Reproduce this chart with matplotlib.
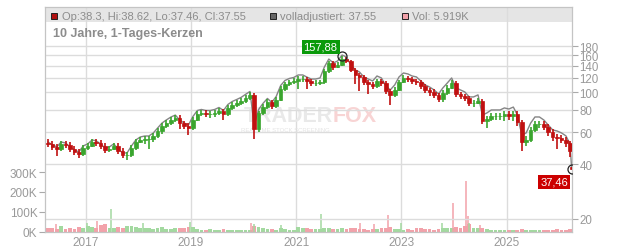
import matplotlib
matplotlib.use("Agg")
import matplotlib.pyplot as plt
import matplotlib.dates as mdates
from matplotlib.patches import Rectangle
from matplotlib.ticker import NullLocator
import numpy as np
import pandas as pd

plt.rcParams['font.family'] = ['Liberation Sans', 'DejaVu Sans']

# one candle per month (Apr 2016 .. Mar 2026) + the last trading day
months = list(pd.date_range('2016-04-01', periods=120, freq='MS') + pd.Timedelta(days=14))
months.append(pd.Timestamp('2026-03-27'))

close = [51.7, 49.8, 48.5, 51.7, 51.0, 48.5, 46.7, 45.5, 49.1,
         50.4, 53.0, 52.4, 50.4, 47.9, 48.5, 50.4, 47.3, 44.9, 44.9, 49.1, 53.0,
         54.4, 55.1, 55.1, 57.2, 60.9, 65.0, 67.6, 70.1, 71.9, 67.6, 65.0, 63.3,
         70.1, 75.7, 76.7, 75.7, 75.7, 76.7, 78.7, 75.7, 81.7, 84.9, 87.1, 89.4,
         92.9, 96.5, 62.5, 76.7, 82.8, 88.2, 83.8, 90.5, 104.1, 111.0, 113.9, 115.3,
         118.3, 118.3, 115.3, 112.4, 112.4, 113.9, 130.9, 145.0, 137.8, 141.4, 152.6, 148.8,
         132.6, 124.4, 121.4, 113.9, 111.0, 108.2, 115.3, 112.4, 101.5, 96.5, 102.8, 113.9,
         119.8, 118.3, 115.3, 113.9, 108.2, 102.8, 100.2, 96.5, 91.7, 99.0, 105.4, 112.4,
         97.7, 95.2, 92.9, 87.1, 87.1, 89.4, 69.2, 71.0, 73.8, 73.8, 73.8, 75.7,
         73.8, 75.7, 68.4, 53.0, 54.4, 61.7, 66.7, 66.7, 64.1, 60.2, 56.5, 55.8,
         54.4, 52.4, 47.3, 37.55]

high = [54.8, 53.8, 51.8, 53.6, 53.8, 53.0, 50.5, 48.5, 51.0,
        52.5, 55.0, 55.3, 54.5, 52.0, 50.5, 52.5, 52.0, 49.0, 46.8, 51.0, 55.0,
        56.8, 57.5, 57.5, 59.5, 63.5, 67.8, 70.5, 73.2, 75.0, 74.5, 69.5, 67.5,
        72.5, 78.5, 79.5, 79.5, 78.5, 79.5, 81.5, 81.0, 84.5, 88.0, 90.5, 93.0,
        96.5, 100.5, 99.0, 79.0, 86.0, 91.5, 91.0, 94.0, 107.5, 114.5, 117.5, 119.5,
        122.5, 122.5, 121.5, 119.0, 116.5, 117.5, 134.5, 149.5, 149.0, 146.0, 157.88, 156.5,
        150.5, 135.5, 128.0, 124.5, 117.0, 114.5, 119.0, 118.5, 115.0, 104.5, 106.5, 117.5,
        124.0, 123.5, 121.5, 119.0, 117.0, 111.0, 106.0, 103.5, 99.5, 102.5, 109.0, 116.5,
        115.0, 100.5, 98.0, 95.5, 90.5, 92.5, 91.5, 74.0, 77.0, 77.0, 77.0, 79.0,
        79.0, 79.0, 78.5, 70.5, 57.0, 64.5, 69.5, 69.5, 69.5, 66.5, 62.5, 58.5,
        58.0, 56.5, 54.0, 38.62]

low = [49.6, 48.0, 44.5, 47.0, 49.0, 46.8, 45.0, 43.2, 44.5,
       48.0, 49.5, 50.5, 48.5, 46.0, 46.5, 48.0, 45.5, 43.2, 42.2, 44.0, 48.0,
       52.0, 51.5, 48.2, 53.0, 55.5, 59.0, 63.5, 66.0, 68.5, 62.5, 62.5, 58.0,
       62.0, 69.0, 73.5, 73.0, 71.5, 73.0, 74.5, 70.5, 74.0, 80.0, 83.0, 85.0,
       87.0, 91.0, 55.1, 60.0, 74.5, 80.5, 80.7, 81.5, 89.0, 102.0, 108.0, 111.0,
       104.1, 114.0, 104.1, 108.5, 108.0, 110.0, 111.5, 128.0, 133.0, 135.5, 140.0, 144.5,
       128.5, 111.0, 101.0, 110.0, 97.7, 104.0, 106.0, 108.0, 97.5, 85.0, 94.5, 101.0,
       112.0, 114.5, 111.5, 110.0, 104.5, 99.0, 95.0, 93.0, 88.0, 88.5, 97.0, 103.5,
       94.0, 91.5, 89.5, 84.0, 82.8, 85.5, 66.5, 63.0, 69.0, 70.5, 70.0, 69.2,
       70.5, 69.0, 65.0, 47.0, 50.5, 53.0, 60.5, 63.5, 61.5, 57.5, 54.0, 48.5,
       52.0, 50.0, 44.0, 37.46]

opens = [52.5] + close[:-2] + [38.3]

# "volladjustiert" line
adj = [53.0, 51.1, 49.8, 53.0, 52.3, 49.8, 47.9, 46.7, 50.4,
       51.7, 54.4, 53.8, 51.7, 49.1, 49.8, 51.7, 48.5, 46.1, 46.1, 50.4, 54.4,
       56.5, 57.2, 57.2, 59.4, 63.3, 67.5, 70.2, 72.8, 74.7, 70.2, 67.5, 65.8,
       73.3, 79.2, 80.2, 79.2, 79.2, 80.2, 82.3, 79.2, 85.5, 88.8, 91.1, 93.5,
       97.2, 100.9, 65.4, 80.2, 86.6, 92.3, 87.7, 94.7, 108.9, 116.1, 119.1, 120.6,
       124.5, 124.5, 121.3, 118.2, 118.2, 119.8, 137.7, 152.5, 145.0, 148.8, 160.5, 156.5,
       141.4, 132.6, 129.4, 121.4, 118.3, 115.3, 122.9, 119.8, 108.2, 102.9, 109.6, 121.4,
       127.7, 126.1, 122.9, 121.4, 115.3, 109.6, 106.8, 102.9, 97.8, 105.5, 112.4, 119.8,
       105.5, 102.8, 100.3, 94.1, 94.1, 96.6, 74.7, 76.7, 79.7, 79.7, 79.7, 81.8,
       80.7, 82.7, 74.8, 57.9, 59.5, 67.4, 72.9, 72.9, 70.1, 65.8, 61.8, 61.0,
       59.5, 57.3, 51.7, 37.55]

# volume in thousands
vol = [18, 22, 15, 28, 14, 20, 16, 24, 19,
       30, 26, 22, 35, 40, 22, 18, 25, 20, 28, 32, 24,
       20, 22, 18, 16, 20, 24, 15, 14, 18, 22, 20, 26,
       24, 14, 12, 10, 14, 12, 10, 16, 12, 10, 12, 8,
       10, 12, 30, 26, 20, 14, 16, 12, 18, 14, 12, 12,
       24, 20, 18, 14, 16, 14, 22, 18, 14, 16, 20, 16,
       22, 18, 16, 14, 12, 16, 14, 18, 22, 24, 16, 14,
       12, 14, 12, 18, 22, 16, 14, 12, 16, 20, 22, 18,
       24, 20, 28, 40, 22, 18, 20, 16, 12, 10, 10, 12,
       10, 8, 12, 14, 10, 8, 12, 10, 8, 10, 12, 14,
       10, 12, 14, 5.919]

spike_dates = ['2016-06-10', '2017-01-10', '2017-03-20', '2017-06-27', '2018-02-04',
               '2018-12-27', '2020-02-20', '2020-03-12', '2020-09-20', '2021-06-24',
               '2022-03-20', '2022-06-25', '2022-09-27', '2022-12-27', '2023-10-08',
               '2023-12-22', '2024-03-24', '2024-04-05', '2024-04-10', '2024-06-28']
spike_vol = [40, 45, 55, 115, 45, 50, 45, 40, 35, 90, 45, 40, 85, 45, 45, 145, 255, 80, 45, 35]
spike_up = [False, True, False, True, True, True, False, True, True, True,
            False, False, False, True, True, False, False, False, True, False]

RED = '#c01010'
GREEN = '#3aa52e'
VRED = '#f2a2aa'
VGREEN = '#a3d9a0'
TXT = '#999999'

fig = plt.figure(figsize=(6.32, 2.53), dpi=100)
ax = fig.add_axes([45 / 632, 20 / 253, 527 / 632, 225 / 253])
ax2 = ax.twinx()

x = mdates.date2num(months)
o = np.array(opens)
c = np.array(close)
up = c >= o

# header band + watermark on the lower (volume) axes
ax.add_patch(Rectangle((0, 210 / 225), 1, 15 / 225, transform=ax.transAxes,
                       facecolor='#e5e5e5', edgecolor='none', zorder=0))
ax.text(0.5465, 0.52, 'TRADER', transform=ax.transAxes, ha='right', va='center',
        fontsize=15.5, fontweight='bold', color='#e9e9e9', zorder=0.8)
ax.text(0.5465, 0.52, 'FOX', transform=ax.transAxes, ha='left', va='center',
        fontsize=15.5, fontweight='bold', color='#f8d4d4', zorder=0.8)
ax.text(0.457, 0.455, 'REALTIME STOCK SCREENING', transform=ax.transAxes, ha='center',
        va='center', fontsize=4.3, color='#e4e4e4', zorder=0.8)

# volume
ax.bar(x, vol, width=26, color=np.where(up, VGREEN, VRED), lw=0, zorder=1)
sx = mdates.date2num(pd.to_datetime(spike_dates))
ax.vlines(sx, 0, spike_vol, colors=np.where(spike_up, VGREEN, VRED), lw=1.1, zorder=1)
ax.set_ylim(0, 1125)
ax.set_yticks([0, 100, 200, 300])
ax.set_yticklabels(['0K', '100K', '200K', '300K'])

ax.set_xlim(mdates.date2num(pd.Timestamp('2016-03-25')), mdates.date2num(pd.Timestamp('2026-03-29')))
years = [pd.Timestamp(f'{y}-01-01') for y in (2017, 2019, 2021, 2023, 2025)]
ax.set_xticks(mdates.date2num(years))
ax.set_xticklabels([str(y.year) for y in years])
ax.set_axisbelow(True)
ax.grid(axis='x', color='#dcdcdc', lw=1)
ax.tick_params(axis='x', length=0, pad=3, labelsize=8.5, labelcolor=TXT)
ax.tick_params(axis='y', length=4, width=0.8, color='#aaaaaa', pad=1.5, labelsize=8.5, labelcolor=TXT)

# price
ax2.set_yscale('log')
ax2.set_ylim(16.84, 295.9)
ticks = [20, 40, 60, 80, 100, 120, 140, 160, 180]
ax2.set_yticks(ticks)
ax2.set_yticklabels([str(t) for t in ticks])
ax2.yaxis.set_minor_locator(NullLocator())
ax2.set_axisbelow(True)
ax2.grid(axis='y', color='#dcdcdc', lw=1)
ax2.tick_params(axis='y', length=4, width=0.8, color='#aaaaaa', pad=1.5, labelsize=8.3, labelcolor=TXT)

ax2.plot(x, adj, color='#858585', lw=1, zorder=2)
col = np.where(up, GREEN, RED)
ax2.vlines(x, low, high, colors=col, lw=1.2, zorder=3)
ax2.bar(x, np.abs(c - o), bottom=np.minimum(o, c), width=25, color=col, edgecolor=col,
        lw=0.5, zorder=3)

# max / min markers
i_max = int(np.argmax(high))
i_min = int(np.argmin(low))
for i in (i_max, i_min):
    ax2.plot(x[i], [high[i], low[i]][i == i_min], 'o', mfc='none', mec='#222222', ms=6.5,
             mew=0.9, zorder=5)
ax2.annotate(f'{high[i_max]:.2f}'.replace('.', ','), (x[i_max], high[i_max]),
             xytext=(-15.5, 6.8), textcoords='offset points', ha='center', va='center',
             fontsize=8, color='white', zorder=6,
             bbox=dict(boxstyle='square,pad=0.18', fc='#0a9a0a', ec='none'))
ax2.annotate(f'{low[i_min]:.2f}'.replace('.', ','), (x[i_min], low[i_min]),
             xytext=(-12.5, -9), textcoords='offset points', ha='center', va='center',
             fontsize=8, color='white', zorder=6,
             bbox=dict(boxstyle='square,pad=0.18', fc='#cc0000', ec='none'))

for a in (ax, ax2):
    for s in a.spines.values():
        s.set_color('#c4c4c4')

# header legend
def square(px, color):
    fig.add_artist(Rectangle((px / 632, 1 - 19.5 / 253), 6 / 632, 6 / 253,
                             transform=fig.transFigure, facecolor=color,
                             edgecolor='#222222', lw=0.7))

hy = 1 - 16.5 / 253
square(51, '#b01010')
fig.text(62 / 632, hy, 'Op:38.3, Hi:38.62, Lo:37.46, Cl:37.55', fontsize=8, color='#8c8c8c', va='center')
square(270, '#666666')
fig.text(280 / 632, hy, 'volladjustiert: 37.55', fontsize=8, color='#8c8c8c', va='center')
square(402, '#f0a0a8')
fig.text(412 / 632, hy, 'Vol: 5.919K', fontsize=8, color='#8c8c8c', va='center')
fig.text(53 / 632, 1 - 33.5 / 253, '10 Jahre, 1-Tages-Kerzen', fontsize=9, fontweight='bold',
         color='#8c8c8c', va='center')

fig.savefig('out.png', dpi=100)
